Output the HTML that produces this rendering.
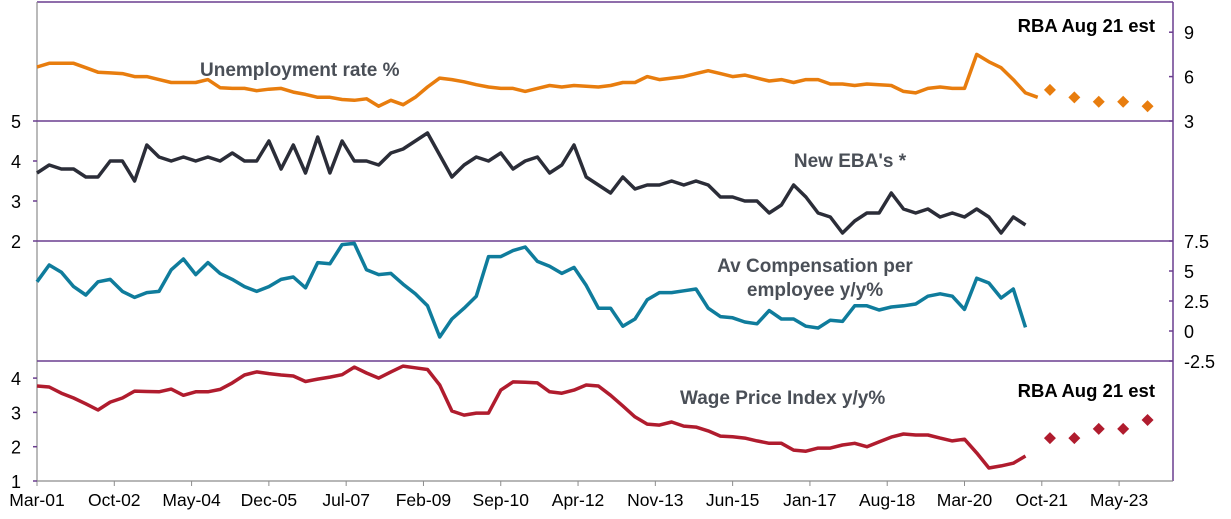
<!DOCTYPE html>
<html><head><meta charset="utf-8"><style>
html,body{margin:0;padding:0;background:#fff;}
svg{display:block;font-family:"Liberation Sans",Arial,sans-serif;}
</style></head><body>
<svg id="chart" width="1231" height="519" viewBox="0 0 1231 519"></svg>
<script>
// ---- data (quarterly from Mar-01) ----
const startLabel = "Mar-01";
const xTickLabels = ["Mar-01","Oct-02","May-04","Dec-05","Jul-07","Feb-09","Sep-10","Apr-12","Nov-13","Jun-15","Jan-17","Aug-18","Mar-20","Oct-21","May-23"];
const unemployment = [6.65,6.9,6.9,6.9,6.6,6.3,6.25,6.2,6.0,6.0,5.8,5.6,5.6,5.6,5.8,5.25,5.2,5.2,5.05,5.15,5.2,4.95,4.8,4.6,4.6,4.45,4.4,4.5,4.0,4.4,4.1,4.6,5.3,5.9,5.8,5.65,5.45,5.3,5.2,5.2,5.0,5.2,5.4,5.3,5.4,5.35,5.3,5.4,5.6,5.6,6.0,5.8,5.9,6.0,6.2,6.4,6.2,6.0,6.1,5.9,5.7,5.8,5.6,5.8,5.8,5.5,5.5,5.4,5.5,5.45,5.4,5.0,4.9,5.2,5.3,5.2,5.2,7.5,7.0,6.6,5.8,4.9,4.6];
const unempForecastQ = [83,85,87,89,91];
const unempForecast = [5.1,4.6,4.3,4.3,4.0];
const newEBA = [3.7,3.9,3.8,3.8,3.6,3.6,4.0,4.0,3.5,4.4,4.1,4.0,4.1,4.0,4.1,4.0,4.2,4.0,4.0,4.5,3.8,4.4,3.7,4.6,3.7,4.5,4.0,4.0,3.9,4.2,4.3,4.5,4.7,4.15,3.6,3.9,4.1,4.0,4.2,3.8,4.0,4.1,3.7,3.9,4.4,3.6,3.4,3.2,3.6,3.3,3.4,3.4,3.5,3.4,3.5,3.4,3.1,3.1,3.0,3.0,2.7,2.9,3.4,3.1,2.7,2.6,2.2,2.5,2.7,2.7,3.2,2.8,2.7,2.8,2.6,2.7,2.6,2.8,2.6,2.2,2.6,2.4];
const compensation = [4.1,5.5,4.9,3.7,3.0,4.1,4.3,3.3,2.8,3.2,3.3,5.1,6.0,4.7,5.7,4.8,4.3,3.7,3.3,3.7,4.3,4.5,3.6,5.7,5.6,7.2,7.3,5.1,4.7,4.8,3.9,3.1,2.1,-0.5,1.0,1.9,2.9,6.2,6.2,6.7,7.0,5.8,5.4,4.8,5.3,3.8,1.9,1.9,0.4,1.0,2.6,3.2,3.2,3.35,3.5,1.9,1.2,1.1,0.75,0.6,1.7,1.0,1.0,0.4,0.25,0.9,0.8,2.1,2.1,1.75,2.0,2.1,2.25,2.9,3.1,2.9,1.8,4.4,4.0,2.75,3.5,0.3];
const wpi = [3.77,3.74,3.56,3.42,3.25,3.07,3.3,3.42,3.62,3.61,3.6,3.68,3.5,3.6,3.6,3.67,3.86,4.09,4.18,4.13,4.09,4.06,3.9,3.97,4.03,4.1,4.32,4.15,4.0,4.18,4.35,4.3,4.25,3.8,3.04,2.92,2.98,2.98,3.65,3.89,3.88,3.86,3.6,3.56,3.65,3.8,3.77,3.5,3.19,2.87,2.66,2.63,2.72,2.6,2.57,2.46,2.31,2.29,2.25,2.17,2.1,2.1,1.9,1.87,1.96,1.96,2.05,2.1,2.0,2.14,2.28,2.37,2.34,2.34,2.25,2.17,2.22,1.82,1.38,1.44,1.52,1.73];
const wpiForecastQ = [83,85,87,89,91];
const wpiForecast = [2.25,2.25,2.52,2.52,2.78];
const unempTicks = [9,6,3];
const ebaTicks = [5,4,3,2];
const compTicks = ["7.5","5","2.5","0","-2.5"];
const wpiTicks = [4,3,2,1];

// ---- layout ----
const NS="http://www.w3.org/2000/svg";
const svg=document.getElementById('chart');
const L=37,R=1173,T=2,B=481;
const pxPerMonth=4.068;
const xMonth=m=>L+m*pxPerMonth;
const xQ=q=>xMonth(q*3);
const yU=v=>121-(v-3)*14.8;
const yE=v=>121+(5-v)*40;
const yC=v=>331-v*12;
const yW=v=>481-(v-1)*34.3;
function el(tag,attrs,parent){const e=document.createElementNS(NS,tag);for(const k in attrs)e.setAttribute(k,attrs[k]);(parent||svg).appendChild(e);return e;}
function txt(s,attrs){const t=el('text',attrs);t.textContent=s;return t;}

const purple="#6a3d8f", gray="#8c8c8c";
let e;
e=el('line',{x1:L,y1:T,x2:R,y2:T,stroke:purple,'stroke-width':1.5});

e=el('line',{x1:R,y1:T,x2:R,y2:B,stroke:purple,'stroke-width':1.5});

e=el('line',{x1:L,y1:T,x2:L,y2:B,stroke:gray,'stroke-width':1.2});

e=el('line',{x1:L,y1:B,x2:R,y2:B,stroke:gray,'stroke-width':1.2});

[121,241,361].forEach((y,i)=>{
  const d=el('line',{x1:L,y1:y,x2:R,y2:y,stroke:purple,'stroke-width':1.5});
  
  
});

xTickLabels.forEach((lab,i)=>{
  const x=xMonth(i*19);
  const t=el('line',{x1:x,y1:B,x2:x,y2:B+5,stroke:gray,'stroke-width':1});
  
  
  const l=txt(lab,{x:x,y:506,'text-anchor':'middle','font-size':17.5,fill:'#000'});
  
  
});

function yTick(val,label,y,side){
  const x=side==='L'?L:R;
  const t=el('line',{x1:x-4,y1:y,x2:x,y2:y,stroke:purple,'stroke-width':1.5});
  
  
  const l=txt(label,{x:side==='L'?21:1184,y:y+7,'text-anchor':side==='L'?'end':'start','font-size':18,fill:'#000'});
  
  
}
unempTicks.forEach(v=>yTick(v,String(v),yU(v),'R'));
ebaTicks.forEach(v=>yTick(v,String(v),yE(v),'L'));
compTicks.forEach(v=>yTick(v,v,yC(parseFloat(v)),'R'));
wpiTicks.forEach(v=>yTick(v,String(v),yW(v),'L'));

function line(arr,yf,color,name){
  let d='';arr.forEach((v,i)=>{if(v==null)return;d+=(d?'L':'M')+xQ(i).toFixed(1)+','+yf(v).toFixed(1);});
  const p=el('path',{d:d,fill:'none',stroke:color,'stroke-width':3.5,'stroke-linejoin':'round'});
  
  
}
function diamonds(qs,vals,yf,color,name){
  qs.forEach((q,i)=>{
    const x=xQ(q),y=yf(vals[i]),s=6;
    const p=el('path',{d:`M${x},${y-s}L${x+s},${y}L${x},${y+s}L${x-s},${y}Z`,fill:color});
    
    
  });
}
line(unemployment,yU,'#e87d0e','unemployment-line');
diamonds(unempForecastQ,unempForecast,yU,'#e87d0e','unemployment-forecast-point');
line(newEBA,yE,'#2b2d38','new-eba-line');
line(compensation,yC,'#0f7c9c','compensation-line');
line(wpi,yW,'#b01c2e','wpi-line');
diamonds(wpiForecastQ,wpiForecast,yW,'#b01c2e','wpi-forecast-point');

function ann(s,x,y,anchor,fill,name,fs){
  const t=txt(s,{x:x,y:y,'text-anchor':anchor,'font-size':fs||19,'font-weight':'bold',fill:fill});
  
  
}
ann("Unemployment rate %",200,76,'start','#4a4f57','unemployment-label');
ann("RBA Aug 21 est",1155,32,'end','#000','rba-estimate-label-top',18.5);
ann("New EBA's *",850,167,'middle','#4a4f57','new-eba-label');
ann("Av Compensation per",815,272,'middle','#4a4f57','compensation-label-line1');
ann("employee y/y%",815,296,'middle','#4a4f57','compensation-label-line2');
ann("Wage Price Index y/y%",680,404,'start','#4a4f57','wpi-label');
ann("RBA Aug 21 est",1155,397,'end','#000','rba-estimate-label-bottom',18.5);
</script>
</body></html>
